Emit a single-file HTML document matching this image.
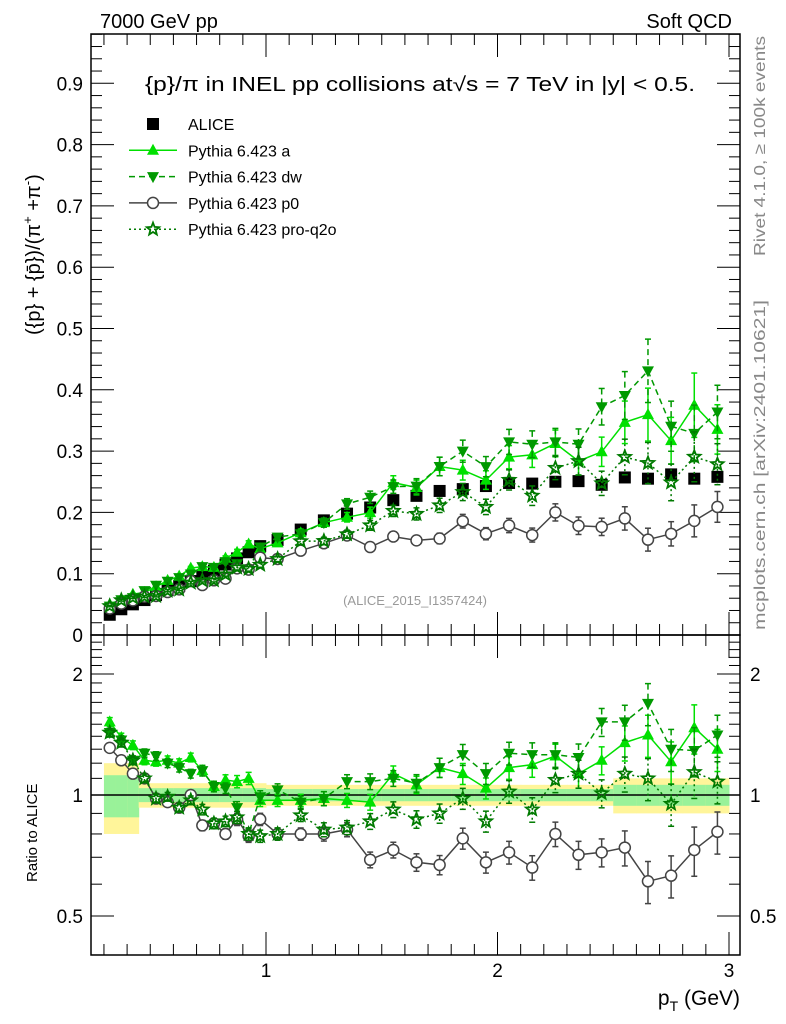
<!DOCTYPE html>
<html><head><meta charset="utf-8"><style>
body{margin:0;background:#fff;}
svg{display:block;font-family:"Liberation Sans",sans-serif;}
</style></head><body>
<svg id="c" width="786" height="1024" viewBox="0 0 786 1024" xmlns="http://www.w3.org/2000/svg">
<text x="100" y="28" font-size="20">7000 GeV pp</text>
<text x="732" y="28" font-size="20" text-anchor="end">Soft QCD</text>
<text x="145" y="91" font-size="20" textLength="550" lengthAdjust="spacingAndGlyphs">{p}/π in INEL pp collisions at√s =  7 TeV in |y| &lt; 0.5.</text>
<text x="415" y="605" font-size="13" fill="#999" text-anchor="middle">(ALICE_2015_I1357424)</text>
<text transform="translate(765,256) rotate(-90)" font-size="16" fill="#888" textLength="220" lengthAdjust="spacingAndGlyphs">Rivet 4.1.0, ≥ 100k events</text>
<text transform="translate(765,630) rotate(-90)" font-size="16" fill="#888" textLength="330" lengthAdjust="spacingAndGlyphs">mcplots.cern.ch [arXiv:2401.10621]</text>
<text transform="translate(40,335) rotate(-90)" font-size="20">({p} + {p̄})/(π<tspan dy="-8" font-size="13">+</tspan><tspan dy="8"> +π</tspan><tspan dy="-8" font-size="13">-</tspan><tspan dy="8">)</tspan></text>
<text transform="translate(37,882) rotate(-90)" font-size="15">Ratio to ALICE</text>
<text x="740" y="1005" font-size="21" text-anchor="end">p<tspan dy="6" font-size="14">T</tspan><tspan dy="-6"> (GeV)</tspan></text>
<g id="g"></g>
</svg>
<script>
const xCenters=[0.325,0.375,0.425,0.475,0.525,0.575,0.625,0.675,0.725,0.775,0.825,0.875,0.925,0.975,1.05,1.15,1.25,1.35,1.45,1.55,1.65,1.75,1.85,1.95,2.05,2.15,2.25,2.35,2.45,2.55,2.65,2.75,2.85,2.95];
const aliceVals=[0.033,0.042,0.050,0.057,0.065,0.073,0.080,0.088,0.097,0.105,0.115,0.125,0.135,0.145,0.155,0.172,0.187,0.198,0.208,0.220,0.227,0.235,0.238,0.243,0.248,0.247,0.250,0.251,0.245,0.257,0.255,0.262,0.255,0.258];
const ratioA=[1.52,1.39,1.33,1.22,1.21,1.22,1.2,1.24,1.15,1.05,1.09,1.08,1.1,0.97,0.97,0.97,0.98,0.97,0.96,1.13,1.06,1.17,1.13,1.04,1.17,1.19,1.25,1.13,1.22,1.35,1.41,1.21,1.47,1.30];
const ratioDW=[1.43,1.37,1.22,1.27,1.25,1.2,1.17,1.13,1.15,1.05,1.04,0.93,0.80,0.99,1.03,0.96,0.98,1.08,1.08,1.10,1.07,1.17,1.26,1.13,1.27,1.26,1.26,1.24,1.52,1.52,1.69,1.30,1.29,1.41];
const ratioP0=[1.31,1.22,1.13,1.10,0.98,0.96,0.93,1.0,0.84,0.85,0.80,0.87,0.79,0.87,0.80,0.80,0.80,0.82,0.69,0.73,0.68,0.67,0.78,0.68,0.72,0.66,0.80,0.71,0.72,0.74,0.61,0.63,0.73,0.81];
const ratioQ2O=[1.43,1.35,1.22,1.10,0.98,0.99,0.93,0.97,0.92,0.85,0.86,0.88,0.80,0.79,0.80,0.89,0.82,0.83,0.86,0.92,0.87,0.90,0.98,0.86,1.02,0.92,1.09,1.13,1.01,1.13,1.10,0.95,1.14,1.08];
const relErr=[0.025,0.025,0.025,0.025,0.025,0.025,0.025,0.025,0.03,0.03,0.03,0.035,0.035,0.035,0.035,0.035,0.04,0.04,0.045,0.045,0.05,0.055,0.06,0.06,0.065,0.07,0.07,0.08,0.08,0.1,0.12,0.12,0.14,0.12];
const bandYellow=[0.2,0.2,0.2,0.07,0.07,0.07,0.07,0.07,0.07,0.07,0.07,0.07,0.07,0.07,0.06,0.06,0.06,0.06,0.06,0.06,0.06,0.06,0.06,0.06,0.06,0.06,0.06,0.06,0.06,0.1,0.1,0.1,0.1,0.1];
const bandGreen=[0.12,0.12,0.12,0.04,0.04,0.04,0.04,0.04,0.04,0.04,0.04,0.04,0.04,0.04,0.035,0.035,0.035,0.035,0.035,0.035,0.035,0.035,0.035,0.035,0.035,0.035,0.035,0.035,0.035,0.06,0.06,0.06,0.06,0.06];
const yTicks=[0,0.1,0.2,0.3,0.4,0.5,0.6,0.7,0.8,0.9];
const rTicks=[0.5,1,2];
const xTicks=[1,2,3];

const NS="http://www.w3.org/2000/svg";
const G=document.getElementById('g');
const L=91,R=740,T1=34,B1=635,B2=955;
const X=v=>34.5+v*231.5;
const Y=v=>635-v*613;
const RY=v=>795-121*Math.log2(v);
function mk(tag,at,parent){const e=document.createElementNS(NS,tag);for(const k in at)e.setAttribute(k,at[k]);(parent||G).appendChild(e);return e;}
function binEdges(i){const w=xCenters[i]<1?0.025:0.05;return [xCenters[i]-w,xCenters[i]+w];}
xCenters.forEach((c,i)=>{const [a,b]=binEdges(i);
 const y1=mk('rect',{x:X(a),y:RY(1+bandYellow[i]),width:X(b)-X(a)+0.5,height:RY(1-bandYellow[i])-RY(1+bandYellow[i]),fill:'#fff59a'});
 
 
 const g1=mk('rect',{x:X(a),y:RY(1+bandGreen[i]),width:X(b)-X(a)+0.5,height:RY(1-bandGreen[i])-RY(1+bandGreen[i]),fill:'#99f299'});
 
 
});
mk('line',{x1:L,x2:R,y1:RY(1),y2:RY(1),stroke:'#000','stroke-width':1.5});
const f1=mk('rect',{x:L,y:T1,width:R-L,height:B1-T1,fill:'none',stroke:'#000','stroke-width':1.5});


const f2=mk('rect',{x:L,y:B1,width:R-L,height:B2-B1,fill:'none',stroke:'#000','stroke-width':1.5});


for(let k=0;k<=49;k++){const v=k*0.02;const y=Y(v);if(y<T1)break;const len=(k%5==0)?23:11;
 mk('line',{x1:L,x2:L+len,y1:y,y2:y,stroke:'#000'});mk('line',{x1:R,x2:R-len,y1:y,y2:y,stroke:'#000'});}
yTicks.forEach(v=>{const t=mk('text',{x:L-8,y:Y(v)+7,'font-size':19,'text-anchor':'end'});t.textContent=v===0?'0':String(v);
 
 });
for(let v=0.4;v<=2.5;v+=0.1){const y=RY(v);if(y<B1||y>B2)continue;const maj=[0.5,1,2].some(m=>Math.abs(m-v)<1e-6);const len=maj?23:11;
 mk('line',{x1:L,x2:L+len,y1:y,y2:y,stroke:'#000'});mk('line',{x1:R,x2:R-len,y1:y,y2:y,stroke:'#000'});}
rTicks.forEach(v=>{const t=mk('text',{x:L-8,y:RY(v)+7,'font-size':19,'text-anchor':'end'});t.textContent=String(v);
 
 
 const t2=mk('text',{x:R+10,y:RY(v)+7,'font-size':19});t2.textContent=String(v);
 
 });
for(let k=3;k<=30;k++){const v=k/10;const x=X(v);if(x<L||x>R)continue;const maj=k%10==0;const len=maj?23:11;
 [[B1,-1],[T1,1],[B1,1],[B2,-1]].forEach(([y0,d])=>mk('line',{x1:x,x2:x,y1:y0,y2:y0+d*len,stroke:'#000'}));}
xTicks.forEach(v=>{const t=mk('text',{x:X(v),y:977,'font-size':19,'text-anchor':'middle'});t.textContent=String(v);
 
 });
function marker(type,x,y,col,g){const s=6;
 if(type==='sq')return mk('rect',{x:x-s,y:y-s,width:2*s,height:2*s,fill:'#000'},g);
 if(type==='up')return mk('polygon',{points:`${x},${y-6.5} ${x-6},${y+4.5} ${x+6},${y+4.5}`,fill:col},g);
 if(type==='dn')return mk('polygon',{points:`${x},${y+6.5} ${x-6},${y-4.5} ${x+6},${y-4.5}`,fill:col},g);
 if(type==='ci')return mk('circle',{cx:x,cy:y,r:5.5,fill:'#fff',stroke:col,'stroke-width':1.5},g);
 if(type==='st'){let p=[];for(let k=0;k<10;k++){const r=k%2?2.8:6.5;const a=-Math.PI/2+k*Math.PI/5;p.push((x+r*Math.cos(a)).toFixed(1)+','+(y+r*Math.sin(a)).toFixed(1));}
  return mk('polygon',{points:p.join(' '),fill:'none',stroke:col,'stroke-width':1.8},g);}
}
const series=[
 {name:'pythia-a',ratio:ratioA,col:'#00e000',m:'up',dash:''},
 {name:'pythia-dw',ratio:ratioDW,col:'#009900',m:'dn',dash:'6,4'},
 {name:'pythia-p0',ratio:ratioP0,col:'#444',m:'ci',dash:''},
 {name:'pythia-pro-q2o',ratio:ratioQ2O,col:'#007a00',m:'st',dash:'2,3'}];
const ga=mk('g',{});


xCenters.forEach((c,i)=>{const e=marker('sq',X(c),Y(aliceVals[i]),'#000',ga);
 
 });
series.forEach(s=>{
 [[Y,i=>s.ratio[i]*aliceVals[i]],[RY,i=>s.ratio[i]]].forEach(([fy,fv],pi)=>{
  const g=mk('g',{});
  
  
  const pts=xCenters.map((c,i)=>X(c).toFixed(1)+','+fy(fv(i)).toFixed(1)).join(' ');
  mk('polyline',{points:pts,fill:'none',stroke:s.col,'stroke-width':1.5,'stroke-dasharray':s.dash},g);
  xCenters.forEach((c,i)=>{const v=fv(i),e=v*relErr[i];const x=X(c);
   mk('line',{x1:x,x2:x,y1:fy(v+e),y2:fy(Math.max(v-e,0.001)),stroke:s.col,'stroke-width':1.5,'stroke-dasharray':s.dash},g);
   mk('line',{x1:x-3,x2:x+3,y1:fy(v+e),y2:fy(v+e),stroke:s.col,'stroke-width':1.5},g);
   mk('line',{x1:x-3,x2:x+3,y1:fy(v-e),y2:fy(v-e),stroke:s.col,'stroke-width':1.5},g);
   const m=marker(s.m,x,fy(v),s.col,g);
   
   });
 });
});
const legend=[['ALICE','sq','#000',''],['Pythia 6.423 a','up','#00e000',''],['Pythia 6.423 dw','dn','#009900','6,4'],['Pythia 6.423 p0','ci','#444',''],['Pythia 6.423 pro-q2o','st','#007a00','2,3']];
legend.forEach((l,i)=>{const y=124+i*26.3;const g=mk('g',{});
 
 
 if(l[1]!=='sq')mk('line',{x1:129,x2:177,y1:y,y2:y,stroke:l[2],'stroke-width':1.5,'stroke-dasharray':l[3]},g);
 const m=marker(l[1],153,y,l[2],g);if(l[1]==='sq'){m.setAttribute('x',147);m.setAttribute('y',y-6);}
 const t=mk('text',{x:188,y:y+6,'font-size':16},g);t.textContent=l[0];});
</script>
</body></html>
